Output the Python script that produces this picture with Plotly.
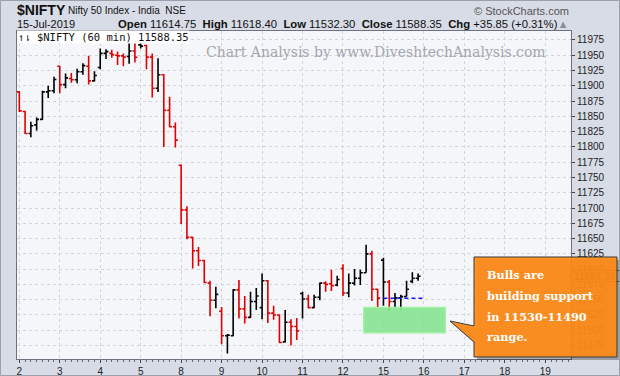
import plotly.graph_objects as go

# ---------------- data ----------------
day_labels = ["2", "3", "4", "5", "8", "9", "10", "11", "12", "15", "16", "17", "18", "19"]
bars_per_day = 7
prev_close = 11865.6

opens = [11890, 11858, 11822, 11836, 11845, 11890, 11892,
         11932, 11902, 11912, 11910, 11923, 11932, 11908,
         11930, 11953, 11953, 11950, 11949, 11948, 11957,
         11967, 11966, 11947, 11896, 11918, 11860, 11833,
         11770, 11697, 11652, 11630, 11614, 11577, 11549,
         11531, 11491, 11491, 11566, 11535, 11521, 11547,
         11537, 11581, 11528, 11525, 11481, 11513, 11506,
         11560, 11551, 11537, 11554, 11577, 11576, 11574,
         11601, 11561, 11577, 11585, 11594, 11625, 11567,
         11614.75, 11579, 11547, 11553, 11555, 11580, 11585]
highs = [11891, 11859, 11841, 11848, 11892, 11900, 11915,
         11933, 11920, 11921, 11928, 11937, 11949, 11924,
         11961, 11960, 11959, 11956, 11953, 11970, 11970,
         11973, 11967, 11953, 11945, 11919, 11882, 11840,
         11771, 11703, 11653, 11636, 11615, 11581, 11571,
         11538, 11494, 11567, 11582, 11556, 11563, 11569,
         11593, 11582, 11540, 11526, 11533, 11518, 11520,
         11563, 11558, 11558, 11578, 11580, 11599, 11589,
         11608, 11593, 11600, 11599, 11640, 11630, 11568,
         11618.4, 11582, 11561, 11558, 11581, 11595, 11593]
lows = [11857, 11821, 11816, 11827, 11844, 11880, 11888,
        11888, 11896, 11905, 11904, 11918, 11902, 11907,
        11927, 11944, 11946, 11934, 11932, 11936, 11938,
        11961, 11927, 11881, 11890, 11800, 11832, 11799,
        11674, 11649, 11601, 11605, 11577, 11523, 11536,
        11477, 11462, 11490, 11519, 11511, 11520, 11533,
        11518, 11512, 11517, 11479, 11480, 11475, 11484,
        11519, 11536, 11536, 11549, 11563, 11564, 11572,
        11556, 11554, 11573, 11574, 11594, 11548, 11538,
        11540, 11532.3, 11536, 11534, 11555, 11577, 11581]
closes = [11859, 11822, 11834.7, 11845, 11890, 11892, 11910.3,
          11902, 11913, 11910, 11923, 11933, 11908, 11916.75,
          11953, 11956, 11951, 11949, 11947, 11957, 11946.75,
          11965, 11947, 11896, 11918, 11860, 11833, 11811.15,
          11697, 11652, 11630, 11614, 11578, 11549, 11558.6,
          11491, 11492, 11566, 11535, 11521, 11547, 11555.9,
          11581, 11528, 11525, 11480, 11513, 11506, 11498.9,
          11551, 11537, 11554, 11577, 11575, 11573, 11582.9,
          11561, 11577, 11585, 11594, 11625, 11567, 11552.5,
          11579, 11547, 11553, 11555, 11567, 11585, 11588.35]

y_ticks = [11475, 11500, 11525, 11550, 11575, 11600, 11625, 11650, 11675, 11700,
           11725, 11750, 11775, 11800, 11825, 11850, 11875, 11900, 11925, 11950, 11975]

support_level = 11552.5          # dashed blue line level
support_bars = [63, 70]          # from first bar of 15-Jul
zone_low, zone_high = 11496, 11537
zone_bars = [59.6, 73.7]

last_price = "11588.35"
hdr_open, hdr_high, hdr_low, hdr_close, hdr_chg = "11614.75", "11618.40", "11532.30", "11588.35", "+35.85 (+0.31%)"

# ---------------- geometry helpers ----------------
W, H = 620, 376
ML, MR, MT, MB = 17, 49, 31, 17
PW, PH = W - ML - MR, H - MT - MB


def px(x):
    return (x - ML) / PW


def py(y):
    return (H - MB - y) / PH


def path(points):
    return "M " + " L ".join(f"{px(a):.5f},{py(b):.5f}" for a, b in points) + " Z"


# ---------------- traces ----------------
n = len(closes)
xs = list(range(n))
prevs = [prev_close] + closes[:-1]
red_idx = [i for i in xs if closes[i] < prevs[i]]
blk_idx = [i for i in xs if closes[i] >= prevs[i]]

RED = "#e00000"
BLK = "#000000"

fig = go.Figure()
for idx, col in ((blk_idx, BLK), (red_idx, RED)):
    fig.add_trace(go.Ohlc(
        x=idx,
        open=[opens[i] for i in idx], high=[highs[i] for i in idx],
        low=[lows[i] for i in idx], close=[closes[i] for i in idx],
        increasing=dict(line=dict(color=col, width=1.6)),
        decreasing=dict(line=dict(color=col, width=1.6)),
        tickwidth=0.42, showlegend=False, hoverinfo="skip"))

fig.add_trace(go.Scatter(
    x=support_bars, y=[support_level, support_level], mode="lines",
    line=dict(color="#1a1aff", width=1.5, dash="4px,3px"),
    showlegend=False, hoverinfo="skip"))

tickvals = [i * bars_per_day for i in range(len(day_labels))]

grid = dict(showgrid=True, gridcolor="#d3d5dc", gridwidth=1, griddash="3px,3px")
fig.update_layout(
    width=W, height=H,
    margin=dict(l=ML, r=MR, t=MT, b=MB, pad=0),
    paper_bgcolor="#d8dce6", plot_bgcolor="#f5f6fa",
    font=dict(family="Liberation Sans, Arial, sans-serif", size=10, color="#222"),
    xaxis=dict(range=[-0.4, 95.45], tickmode="array", tickvals=tickvals, ticktext=day_labels,
               ticks="outside", ticklen=3, tickcolor="#444", tickfont=dict(size=10, color="#222"),
               showline=True, linecolor="#6f7080", linewidth=1, mirror=True, zeroline=False,
               automargin=False, rangeslider=dict(visible=False),
               minor=dict(tickmode="linear", tick0=0, dtick=1, ticks="outside", ticklen=2,
                          tickcolor="#666", showgrid=False),
               **grid),
    yaxis=dict(range=[11452.9, 11989.7], side="right", tickmode="array", tickvals=y_ticks,
               ticktext=[str(v) for v in y_ticks], ticks="outside", ticklen=3, tickcolor="#444",
               tickfont=dict(size=10, color="#222"), automargin=False,
               showline=True, linecolor="#6f7080", linewidth=1, mirror=True, zeroline=False,
               **grid),
)

shapes = []
# green support zone
shapes.append(dict(type="rect", xref="x", yref="y", x0=zone_bars[0], x1=zone_bars[1],
                   y0=zone_low, y1=zone_high, layer="above",
                   fillcolor="rgba(128,226,140,0.85)", line=dict(color="rgba(160,240,160,1)", width=1.5)))
# last price tag
shapes.append(dict(type="path", xref="paper", yref="paper", layer="above",
                   path=path([(569, 276), (575, 270.5), (620, 270.5), (620, 281.5), (575, 281.5)]),
                   fillcolor="#d8dce6", line=dict(color="#555", width=1),
                   label=dict(text="<b>" + last_price + "</b>", font=dict(size=10, color="#333"))))
# callout shadow + box
call = [(474, 257), (617, 257), (617, 357), (474, 357), (474, 342), (450, 321), (474, 326)]
shapes.append(dict(type="path", xref="paper", yref="paper", layer="above",
                   path=path([(a + 3, b + 3) for a, b in call]),
                   fillcolor="rgba(0,0,0,0.28)", line=dict(width=0)))
shapes.append(dict(type="path", xref="paper", yref="paper", layer="above",
                   path=path(call), fillcolor="rgba(255,138,22,0.93)",
                   line=dict(color="#3a3a3a", width=1)))
# outer frame
shapes.append(dict(type="rect", xref="paper", yref="paper", layer="above",
                   x0=px(0.5), x1=px(619.5), y0=py(375.5), y1=py(0.5),
                   line=dict(color="#9aa0ad", width=1)))
fig.update_layout(shapes=shapes)

ann = []


def A(text, x, y, xa="left", ya="middle", **kw):
    d = dict(text=text, x=px(x), y=py(y), xref="paper", yref="paper", xanchor=xa, yanchor=ya,
             showarrow=False)
    d.update(kw)
    ann.append(d)


A("<b>$NIFTY</b>", 15, 10, font=dict(size=14, color="#111"))
A("Nifty 50 Index - India&nbsp;&nbsp;NSE", 66, 11, font=dict(size=10, color="#111"))
A("© StockCharts.com", 571, 11, xa="right", font=dict(size=11, color="#555"))
A("15-Jul-2019", 15, 24, font=dict(size=11, color="#111"))
A(f"<b>Open</b> {hdr_open}  <b>High</b> {hdr_high}  <b>Low</b> {hdr_low}  "
  f"<b>Close</b> {hdr_close}  <b>Chg</b> {hdr_chg}<span style='color:#8a8f9a'>▲</span>",
  571, 24, xa="right", font=dict(size=11.3, color="#111"))
A(f"↿⇂ $NIFTY (60 min) {last_price}", 17, 37, font=dict(size=10.5, color="#111", family="DejaVu Sans Mono"),
  bgcolor="#ffffff", borderpad=0)
A("Chart Analysis by www.DiveshtechAnalysis.com", 204, 52,
  font=dict(size=14, color="#a3a6ad", family="DejaVu Serif, Liberation Serif, serif"))
for t, yy in (("Bulls are", 275), ("building support", 295.7), ("in 11530-11490", 316.7), ("range.", 337.3)):
    A("<b>" + t + "</b>", 485, yy, font=dict(size=11.3, color="#ffffff", family="DejaVu Serif, Liberation Serif, serif"))
fig.update_layout(annotations=ann)

fig.write_html("out.html", config={"displayModeBar": False},
               post_script="document.body.style.margin='0';document.body.style.padding='0';")
